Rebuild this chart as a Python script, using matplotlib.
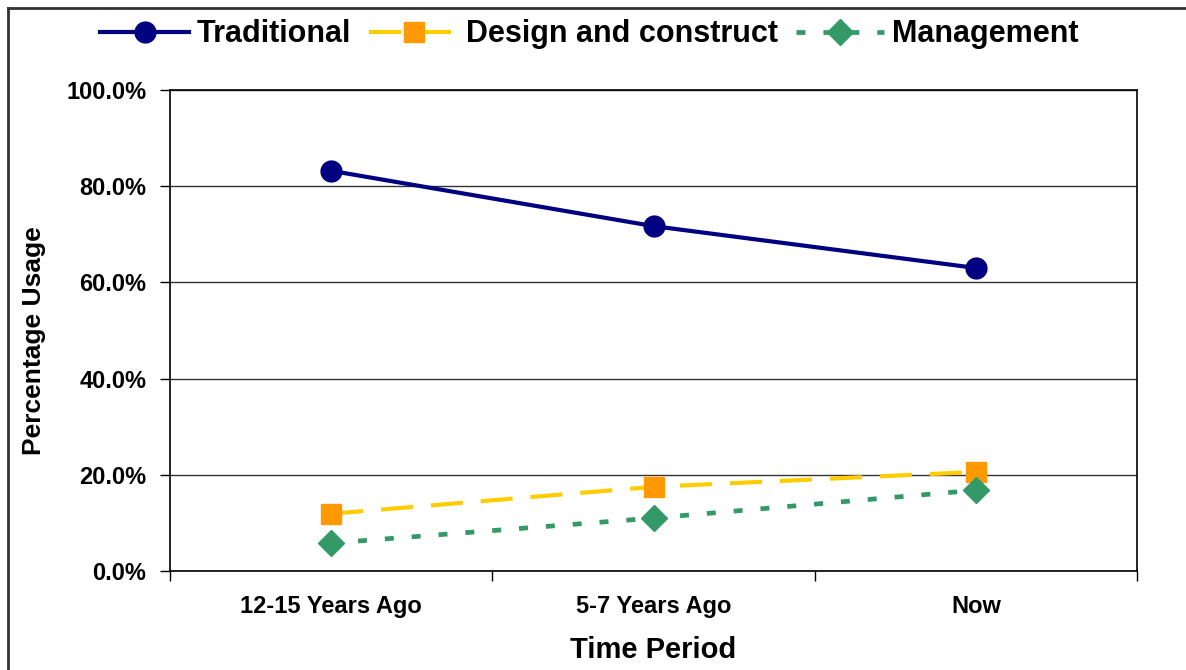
import matplotlib
matplotlib.use("Agg")
import matplotlib.pyplot as plt
from matplotlib.lines import Line2D
from matplotlib.ticker import FixedLocator, NullFormatter

plt.rcParams['font.family'] = ['Liberation Sans', 'DejaVu Sans']
plt.rcParams['font.weight'] = 'bold'

# Data
periods = ['12-15 Years Ago', '5-7 Years Ago', 'Now']
traditional = [83.2, 71.7, 63.0]
design_construct = [11.9, 17.5, 20.6]
management = [5.8, 11.0, 16.8]

fig = plt.figure(figsize=(11.86, 6.70), dpi=100)
ax = fig.add_axes([170 / 1186, 1 - 571 / 670, (1137 - 170) / 1186, (571 - 90) / 670])

x = range(len(periods))
ax.plot(x, traditional, color='#000080', lw=3, marker='o', ms=15,
        markerfacecolor='#000080', markeredgecolor='#000080', label='Traditional', zorder=4)
ax.plot(x, design_construct, color='#FFCC00', lw=3, dashes=(7.7, 4.3), marker='s', ms=15,
        markerfacecolor='#FF9900', markeredgecolor='#FF9900', label='Design and construct', zorder=4)
ax.plot(x, management, color='#339966', lw=3.4, dashes=(1.9, 3.8), marker='D', ms=13,
        markerfacecolor='#339966', markeredgecolor='#339966', label='Management', zorder=4)

ax.set_xlim(-0.5, 2.5)
ax.set_ylim(0, 100)
ax.set_yticks([0, 20, 40, 60, 80, 100])
ax.set_yticklabels(['%.1f%%' % v for v in [0, 20, 40, 60, 80, 100]])
ax.yaxis.grid(True, color='#333333', lw=1)
ax.set_axisbelow(True)

ax.set_xticks(list(x))
ax.set_xticklabels(periods)
ax.tick_params(axis='x', length=0, pad=17, labelsize=17)
ax.xaxis.set_minor_locator(FixedLocator([-0.5, 0.5, 1.5, 2.5]))
ax.xaxis.set_minor_formatter(NullFormatter())
ax.tick_params(axis='x', which='minor', length=7, width=1, direction='out')
ax.tick_params(axis='y', length=7, width=1, direction='out', labelsize=17, pad=10)

for s in ax.spines.values():
    s.set_color('black')
    s.set_linewidth(1.2)

ax.set_xlabel('Time Period', fontsize=21, fontweight='bold', labelpad=13)
ax.set_ylabel('Percentage Usage', fontsize=19, fontweight='bold')
ax.yaxis.set_label_coords(-0.128, 0.478)

fig.legend(loc='upper center', bbox_to_anchor=(0.497, 1.012), ncol=3, frameon=False,
           handlelength=2.9, columnspacing=0.6, handletextpad=0.25,
           prop={'weight': 'bold', 'size': 22})

# Outer frame (left and top only)
fig.add_artist(Line2D([8 / 1186, 8 / 1186], [0, 1 - 8 / 670], color='#333333', lw=2))
fig.add_artist(Line2D([8 / 1186, 1], [1 - 8 / 670, 1 - 8 / 670], color='#333333', lw=2))

fig.savefig('out.png', dpi=100)
